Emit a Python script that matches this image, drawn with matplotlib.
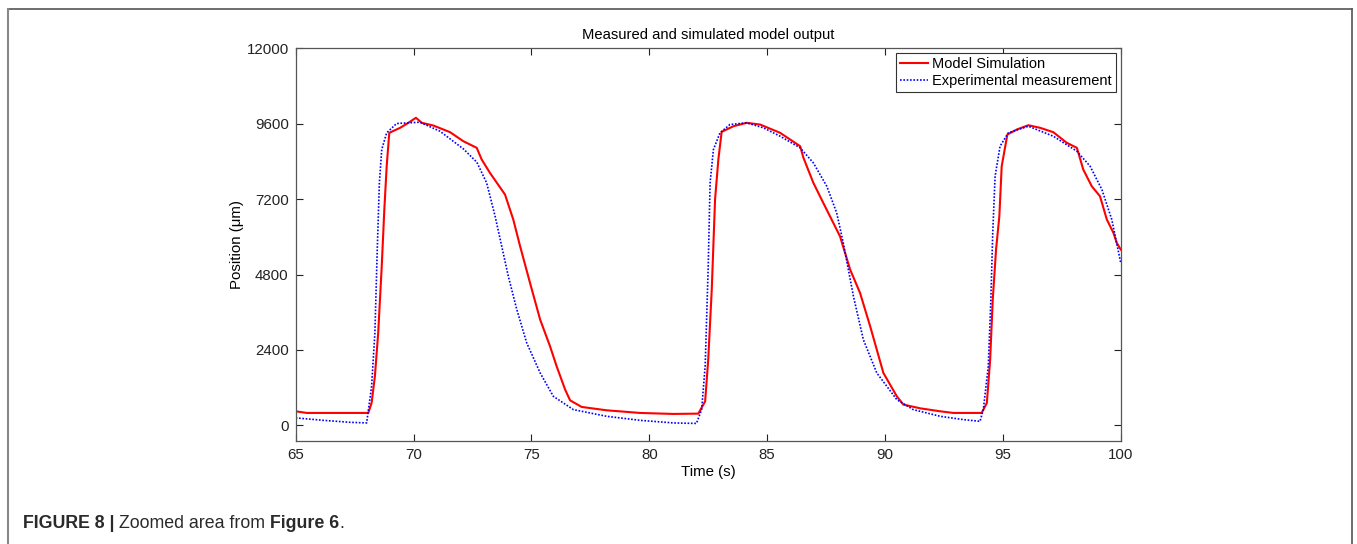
import matplotlib
matplotlib.use('Agg')
import matplotlib.pyplot as plt
from matplotlib.lines import Line2D

plt.rcParams['font.family'] = ['Liberation Sans', 'DejaVu Sans']

# values
sim_t = [65, 65.47, 68.08, 68.22, 68.36, 68.5, 68.65, 68.76, 68.86, 68.97, 69.43, 69.78, 70.1, 70.35,
         70.84, 71.55, 72.11, 72.68, 72.89, 73.24, 73.88, 74.23, 74.52, 74.94, 75.37, 75.79, 76.07,
         76.43, 76.64, 77.13, 78.19, 79.6, 81.02, 82.08, 82.37, 82.5, 82.65, 82.79, 82.93, 83.07,
         83.57, 84.13, 84.7, 85.55, 86.4, 86.54, 86.96, 87.38, 88.09, 88.52, 88.94, 89.37, 89.93,
         90.5, 90.78, 91.5, 92.34, 92.9, 94.1, 94.32, 94.46, 94.57, 94.71, 94.85, 94.95, 95.19,
         95.59, 96.08, 96.58, 97.14, 97.71, 98.14, 98.41, 98.77, 99.12, 99.41, 99.69, 99.83, 100]
sim_pos = [446, 394, 394, 712, 1560, 2942, 5063, 6868, 8247, 9310, 9469, 9628, 9788, 9628,
           9542, 9330, 9043, 8832, 8460, 8036, 7345, 6550, 5700, 4534, 3365, 2515, 1878,
           1137, 796, 585, 478, 394, 362, 372, 764, 2090, 4320, 7186, 8460, 9341,
           9520, 9628, 9574, 9310, 8884, 8514, 7718, 7081, 6018, 4958, 4215, 3152, 1668,
           923, 659, 540, 446, 394, 394, 712, 2090, 4000, 5594, 6655, 8247, 9256,
           9415, 9552, 9469, 9330, 8992, 8832, 8141, 7610, 7291, 6550, 6126, 5807, 5594]

exp_t = [65, 66.17, 67.3, 68.01, 68.22, 68.36, 68.46, 68.55, 68.65, 68.86, 69.28, 70.27, 71.12,
         72.11, 72.68, 73.1, 73.46, 73.74, 74.02, 74.38, 74.8, 75.37, 75.93, 76.78, 78.19, 79.6,
         81.02, 82.0, 82.22, 82.37, 82.5, 82.58, 82.72, 83.0, 83.42, 84.13, 84.84, 85.55, 86.4,
         86.96, 87.53, 87.95, 88.23, 88.66, 89.08, 89.65, 90.5, 91.2, 91.49, 92.34, 93.33, 94.03,
         94.17, 94.38, 94.49, 94.57, 94.67, 94.88, 95.23, 96.08, 97.14, 98.14, 98.7, 99.2, 99.62, 100]
exp_pos = [236, 159, 96, 76, 1242, 2942, 5594, 7718, 8778, 9310, 9606, 9648, 9361,
           8800, 8380, 7718, 6655, 5700, 4744, 3684, 2624, 1668, 923, 500, 287, 159,
           76, 60, 500, 1878, 5063, 7718, 8778, 9310, 9574, 9628, 9469, 9202, 8832,
           8354, 7610, 6762, 5807, 4108, 2729, 1668, 818, 500, 446, 287, 181, 127,
           500, 1878, 4000, 6126, 7928, 8884, 9310, 9520, 9202, 8724, 8247, 7504, 6550, 5170]

x_ticks = [65, 70, 75, 80, 85, 90, 95, 100]
y_ticks = [0, 2400, 4800, 7200, 9600, 12000]

fig = plt.figure(figsize=(13.57, 5.44), dpi=100)
ax = fig.add_axes([0.2179, 0.1893, 0.608, 0.7219])

ax.plot(sim_t, sim_pos, color='#ff0000', lw=1.5, label='Model Simulation')
ax.plot(exp_t, exp_pos, color='#0000ff', lw=1.2, ls=(0, (1, 1)), label='Experimental measurement')

ax.set_xlim(65, 100)
ax.set_ylim(-500, 12000)
ax.set_xticks(x_ticks)
ax.set_yticks(y_ticks)
ax.tick_params(direction='in', length=5, width=0.8, top=True, right=True,
               labelsize=10.8, colors='#222222', pad=5)
for s in ax.spines.values():
    s.set_color('#555555')
    s.set_linewidth(0.9)

ax.set_xlabel('Time (s)', fontsize=10.8, labelpad=2)
ax.set_ylabel('Position (\u03bcm)', fontsize=10.8, labelpad=2)
ax.set_title('Measured and simulated model output', fontsize=10.6, pad=7)

leg = ax.legend(loc='upper right', fontsize=10.5, fancybox=False, framealpha=1,
                edgecolor='#333333', borderaxespad=0.3, handlelength=1.9,
                handletextpad=0.3, borderpad=0.3, labelspacing=0.2)
leg.get_frame().set_linewidth(0.8)

# page frame: top, left and right edges
fc = '#555555'
fig.add_artist(Line2D([8/1357, 1352/1357], [1-9/544, 1-9/544], color=fc, lw=1.2))
fig.add_artist(Line2D([8/1357, 8/1357], [0, 1-9/544], color='#888888', lw=1.5))
fig.add_artist(Line2D([1352/1357, 1352/1357], [0, 1-9/544], color=fc, lw=1.2))

# caption with bold parts
pieces = [('FIGURE 8 | ', 'bold'), ('Zoomed area from ', 'normal'),
          ('Figure 6', 'bold'), ('.', 'normal')]
renderer = fig.canvas.get_renderer()
x0 = 23/1357
for txt, wt in pieces:
    t = fig.text(x0, 1-523/544, txt, fontsize=12.8, fontweight=wt, color='#2a2a2a', va='center')
    bb = t.get_window_extent(renderer=renderer)
    x0 += bb.width / fig.bbox.width

fig.savefig('out.png', dpi=100)
